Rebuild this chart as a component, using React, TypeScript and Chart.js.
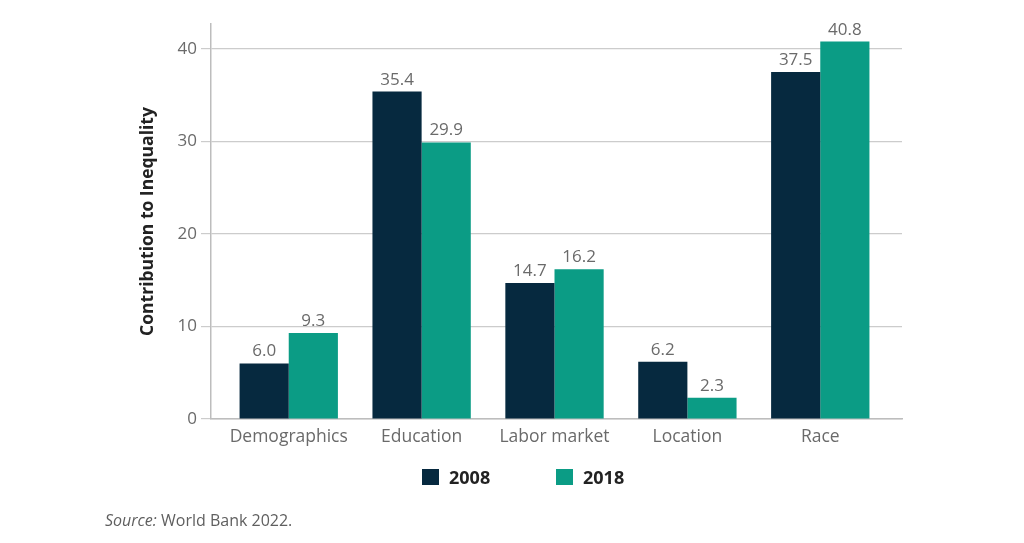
import React, { useEffect, useRef } from "react";
import { Chart, registerables } from "chart.js";

Chart.register(...registerables);

const categories = ["Demographics", "Education", "Labor market", "Location", "Race"];
const series2008 = [6.0, 35.4, 14.7, 6.2, 37.5];
const series2018 = [9.3, 29.9, 16.2, 2.3, 40.8];
const yTicks = [0, 10, 20, 30, 40];
const seriesNames = ["2008", "2018"];
const colors = ["#06293f", "#0b9c85"];

const FONT = "'Open Sans', 'Noto Sans', sans-serif";

const valueLabels = {
  id: "valueLabels",
  afterDatasetsDraw(chart: any) {
    const ctx = chart.ctx;
    ctx.save();
    ctx.font = `17px ${FONT}`;
    ctx.fillStyle = "#6a6a6a";
    ctx.textAlign = "center";
    ctx.textBaseline = "alphabetic";
    chart.data.datasets.forEach((ds: any, di: number) => {
      const meta = chart.getDatasetMeta(di);
      meta.data.forEach((el: any, i: number) => {
        const v = ds.data[i].y;
        ctx.fillText(v.toFixed(1), el.x, el.y - 7);
      });
    });
    ctx.restore();
  },
};

export default function App() {
  const ref = useRef<HTMLCanvasElement | null>(null);
  useEffect(() => {
    if (!ref.current) return;
    const chart = new Chart(ref.current, {
      type: "bar",
      data: {
        datasets: [series2008, series2018].map((s, k) => ({
          label: seriesNames[k],
          data: s.map((v, i) => ({ x: i, y: v })),
          backgroundColor: colors[k],
          borderWidth: 0,
          categoryPercentage: 0.74,
          barPercentage: 1,
        })),
      },
      options: {
        responsive: false,
        animation: false,
        layout: { padding: { left: 134, top: 24, right: 122, bottom: 84 } },
        plugins: { legend: { display: false }, tooltip: { enabled: false } },
        scales: {
          x: {
            type: "linear",
            min: -0.585,
            max: 4.615,
            offset: false,
            grace: 0,
            grid: { display: false, drawTicks: false, offset: false },
            border: { display: true, color: "#bdbdbd", width: 1.5 },
            afterBuildTicks: (axis: any) => {
              axis.ticks = categories.map((_, i) => ({ value: i }));
            },
            afterFit: (axis: any) => {
              axis.height = 40;
            },
            ticks: {
              padding: 8,
              color: "#6a6a6a",
              font: { family: FONT, size: 17.5 },
              callback: (v: any) => categories[v as number],
            },
          },
          y: {
            min: 0,
            max: 42.7,
            afterBuildTicks: (axis: any) => {
              axis.ticks = yTicks.map((v) => ({ value: v }));
            },
            afterFit: (axis: any) => {
              axis.width = 77;
            },
            grid: { color: "#cccccc", lineWidth: 1.2, tickLength: 10 },
            border: { display: true, color: "#bdbdbd", width: 1.5 },
            ticks: {
              padding: 4,
              color: "#6a6a6a",
              font: { family: FONT, size: 17 },
            },
            title: {
              display: true,
              text: "Contribution to Inequality",
              color: "#222222",
              font: { family: FONT, size: 17.5, weight: "bold" },
              padding: { top: 4, bottom: 0 },
            },
          },
        },
      },
      plugins: [valueLabels],
    });
    return () => chart.destroy();
  }, []);

  const legendText: React.CSSProperties = {
    fontFamily: FONT,
    fontWeight: 700,
    fontSize: 18,
    lineHeight: "18px",
    color: "#222",
  };

  return (
    <div style={{ position: "fixed", left: 0, top: 0, width: 1024, height: 543, background: "#fff" }}>
      <canvas ref={ref} width={1024} height={543} style={{ position: "absolute", left: 0, top: 0 }} />
      {seriesNames.map((n, k) => (
        <div
          key={n}
          style={{ position: "absolute", left: k === 0 ? 422 : 556, top: 468, display: "flex", alignItems: "center" }}
        >
          <span style={{ display: "inline-block", width: 17, height: 16, background: colors[k], marginRight: 10 }} />
          <span style={legendText}>{n}</span>
        </div>
      ))}
      <div
        style={{
          position: "absolute",
          left: 105,
          top: 511,
          fontFamily: FONT,
          fontSize: 16,
          lineHeight: "18px",
          color: "#5f5f5f",
        }}
      >
        <i>Source:</i> World Bank 2022.
      </div>
    </div>
  );
}
